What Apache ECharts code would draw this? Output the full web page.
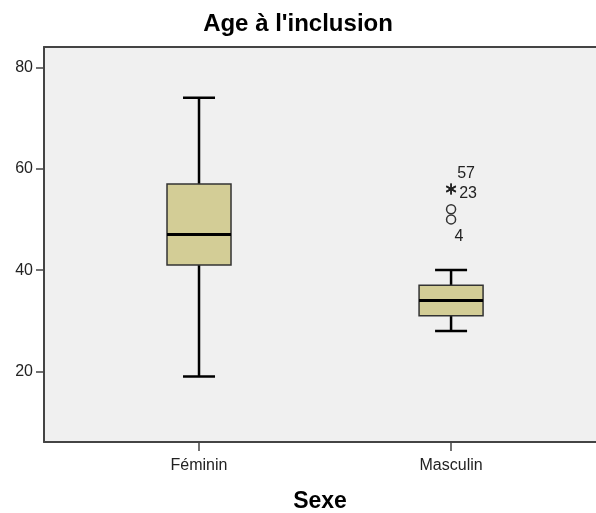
<!DOCTYPE html>
<html>
<head>
<meta charset="utf-8">
<script src="https://cdn.jsdelivr.net/npm/echarts@6/dist/echarts.min.js"></script>
<style>
html, body { margin: 0; padding: 0; background: #fff; }
#chart { width: 596px; height: 513px; }
</style>
</head>
<body>
<div id="chart"></div>
<script>
var categories = ['Féminin', 'Masculin']
// min, Q1, median, Q3, max
var boxStats = [
  [19, 41, 47, 57, 74],
  [28, 31, 34, 37, 40]
]
// circles (outliers)
var outlierCat = [1, 1]
var outlierValues = [52, 50]
var outlierIds = ['', '4']
// stars (extremes)
var extremeCat = [1, 1]
var extremeValues = [56, 56]
var extremeIds = ['57', '23']
var yTicks = [20, 40, 60, 80]

// label offsets in px, layout only
var outlierLabelOffset = [[0, 0], [8, 17]]
var extremeLabelOffset = [[15, -15], [17, 5]]

var FONT = 'Liberation Sans, Arial, sans-serif'
var chart = echarts.init(document.getElementById('chart'), null, { renderer: 'canvas' })

var axisLineStyle = { color: '#444', width: 2 }

chart.setOption({
  animation: false,
  backgroundColor: '#fff',
  title: {
    text: "Age à l'inclusion",
    left: 'center',
    top: 7,
    textStyle: { fontFamily: FONT, fontSize: 24, fontWeight: 'bold', color: '#000' }
  },
  grid: {
    left: 44,
    right: 0,
    top: 47,
    bottom: 71,
    outerBoundsMode: 'none',
    containLabel: false,
    show: true,
    backgroundColor: '#f0f0f0',
    borderWidth: 0
  },
  xAxis: [{
    type: 'value',
    min: -0.615,
    max: 1.575,
    splitLine: { show: false },
    axisLine: { show: true, onZero: false, lineStyle: axisLineStyle },
    axisTick: { show: true, customValues: [0, 1], length: 9, lineStyle: { color: '#444', width: 1.5 } },
    axisLabel: {
      customValues: [0, 1],
      formatter: function (v) { return categories[Math.round(v)] },
      fontFamily: FONT,
      fontSize: 16,
      color: '#222',
      margin: 16
    },
    name: 'Sexe',
    nameLocation: 'middle',
    nameGap: 48,
    nameTextStyle: { fontFamily: FONT, fontSize: 23, fontWeight: 'bold', color: '#000' }
  }, {
    type: 'value',
    position: 'top',
    min: -0.615,
    max: 1.575,
    splitLine: { show: false },
    axisLine: { show: true, onZero: false, lineStyle: axisLineStyle },
    axisTick: { show: false },
    axisLabel: { show: false }
  }],
  yAxis: {
    type: 'value',
    min: 6.1,
    max: 84,
    splitLine: { show: false },
    axisLine: { show: true, onZero: false, lineStyle: axisLineStyle },
    axisTick: { show: true, customValues: yTicks, length: 8, lineStyle: { color: '#444', width: 1.5 } },
    axisLabel: {
      customValues: yTicks,
      fontFamily: FONT,
      fontSize: 16,
      color: '#222',
      margin: 11
    }
  },
  series: [{
    type: 'custom',
    name: 'box',
    data: boxStats.map(function (s, i) { return [i].concat(s) }),
    renderItem: function (params, api) {
      var c = api.value(0)
      var p = [1, 2, 3, 4, 5].map(function (d) { return api.coord([c, api.value(d)]) })
      var x = p[0][0]
      var bw = 32
      var cw = 16
      var ls = { stroke: '#000', lineWidth: 2.5 }
      return {
        type: 'group',
        children: [
          { type: 'line', shape: { x1: x, y1: p[0][1], x2: x, y2: p[1][1] }, style: ls },
          { type: 'line', shape: { x1: x, y1: p[3][1], x2: x, y2: p[4][1] }, style: ls },
          { type: 'line', shape: { x1: x - cw, y1: p[0][1], x2: x + cw, y2: p[0][1] }, style: ls },
          { type: 'line', shape: { x1: x - cw, y1: p[4][1], x2: x + cw, y2: p[4][1] }, style: ls },
          {
            type: 'rect',
            shape: { x: x - bw, y: p[3][1], width: bw * 2, height: p[1][1] - p[3][1] },
            style: { fill: '#d3cd96', stroke: '#333', lineWidth: 1.5 }
          },
          { type: 'line', shape: { x1: x - bw, y1: p[2][1], x2: x + bw, y2: p[2][1] }, style: { stroke: '#000', lineWidth: 3 } }
        ]
      }
    }
  }, {
    type: 'custom',
    name: 'outliers',
    data: outlierValues.map(function (v, i) { return [outlierCat[i], v] }),
    renderItem: function (params, api) {
      var pt = api.coord([api.value(0), api.value(1)])
      var off = outlierLabelOffset[params.dataIndex]
      return {
        type: 'group',
        children: [
          { type: 'circle', shape: { cx: pt[0], cy: pt[1], r: 4.5 }, style: { fill: 'none', stroke: '#333', lineWidth: 1.5 } },
          {
            type: 'text',
            x: pt[0] + off[0],
            y: pt[1] + off[1],
            style: { text: outlierIds[params.dataIndex], font: '16px ' + FONT, fill: '#222', align: 'center', verticalAlign: 'middle' }
          }
        ]
      }
    }
  }, {
    type: 'custom',
    name: 'extremes',
    data: extremeValues.map(function (v, i) { return [extremeCat[i], v] }),
    renderItem: function (params, api) {
      var pt = api.coord([api.value(0), api.value(1)])
      var off = extremeLabelOffset[params.dataIndex]
      var r = 5.5
      var st = { stroke: '#222', lineWidth: 1.5 }
      var arms = []
      for (var k = 0; k < 3; k++) {
        var a = Math.PI / 2 + k * Math.PI / 3
        arms.push({
          type: 'line',
          shape: { x1: pt[0] - r * Math.cos(a), y1: pt[1] - r * Math.sin(a), x2: pt[0] + r * Math.cos(a), y2: pt[1] + r * Math.sin(a) },
          style: st
        })
      }
      arms.push({
        type: 'text',
        x: pt[0] + off[0],
        y: pt[1] + off[1],
        style: { text: extremeIds[params.dataIndex], font: '16px ' + FONT, fill: '#222', align: 'center', verticalAlign: 'middle' }
      })
      return { type: 'group', children: arms }
    }
  }]
})
</script>
</body>
</html>
